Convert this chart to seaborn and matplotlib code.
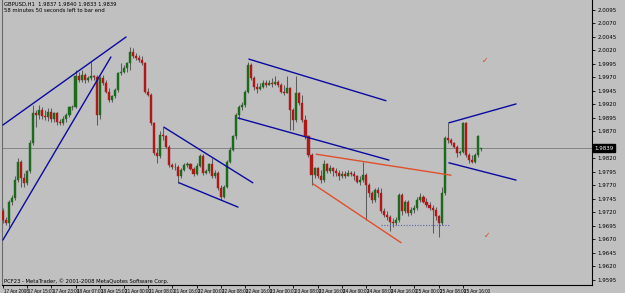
import numpy as np
import pandas as pd
import matplotlib
matplotlib.use("Agg")
import matplotlib.pyplot as plt
import matplotlib.transforms as mtransforms
from matplotlib import font_manager
import seaborn as sns

# ---------------- data (GBPUSD, H1) ----------------
opens = [1.9722,1.9706,1.9700,1.9740,1.9746,1.9780,1.9814,1.9783,1.9774,1.9796,
         1.9848,1.9904,1.9901,1.9910,1.9899,1.9896,1.9907,1.9893,1.9904,1.9888,
         1.9886,1.9893,1.9901,1.9915,1.9916,1.9972,1.9965,1.9975,1.9965,1.9969,
         1.9972,1.9970,1.9901,1.9969,1.9959,1.9944,1.9928,1.9935,1.9947,1.9978,
         1.9981,1.9987,1.9996,2.0018,2.0009,2.0006,2.0002,1.9996,1.9944,1.9938,
         1.9885,1.9830,1.9825,1.9864,1.9861,1.9842,1.9808,1.9804,1.9805,1.9787,
         1.9799,1.9808,1.9810,1.9800,1.9792,1.9806,1.9825,1.9794,1.9796,1.9810,
         1.9787,1.9793,1.9765,1.9749,1.9768,1.9814,1.9836,1.9861,1.9901,1.9916,
         1.9919,1.9944,1.9993,1.9969,1.9953,1.9948,1.9953,1.9959,1.9956,1.9960,
         1.9958,1.9962,1.9956,1.9944,1.9941,1.9950,1.9910,1.9891,1.9941,1.9922,
         1.9891,1.9861,1.9827,1.9790,1.9802,1.9787,1.9780,1.9810,1.9796,1.9802,
         1.9796,1.9793,1.9787,1.9792,1.9788,1.9794,1.9792,1.9787,1.9777,1.9780,
         1.9790,1.9771,1.9756,1.9743,1.9762,1.9756,1.9722,1.9716,1.9712,1.9703,
         1.9700,1.9706,1.9752,1.9722,1.9740,1.9719,1.9725,1.9728,1.9743,1.9749,
         1.9740,1.9734,1.9728,1.9725,1.9713,1.9700,1.9756,1.9858,1.9854,1.9848,
         1.9842,1.9830,1.9832,1.9885,1.9827,1.9817,1.9814,1.9827,1.9837]
highs = [1.9728,1.9712,1.9743,1.9753,1.9787,1.9820,1.9817,1.9793,1.9799,1.9854,
         1.9919,1.9910,1.9919,1.9916,1.9910,1.9913,1.9913,1.9907,1.9907,1.9894,
         1.9898,1.9904,1.9917,1.9919,1.9984,1.9981,1.9984,1.9978,1.9972,1.9999,
         1.9975,1.9975,1.9972,1.9975,1.9965,1.9950,1.9938,1.9950,1.9981,1.9996,
         1.9993,1.9999,2.0027,2.0024,2.0015,2.0012,2.0010,1.9999,1.9950,1.9941,
         1.9888,1.9839,1.9870,1.9879,1.9864,1.9845,1.9812,1.9811,1.9808,1.9802,
         1.9811,1.9814,1.9812,1.9805,1.9811,1.9828,1.9828,1.9800,1.9812,1.9820,
         1.9799,1.9796,1.9771,1.9771,1.9817,1.9842,1.9864,1.9904,1.9919,1.9925,
         1.9947,1.9999,1.9996,1.9972,1.9959,1.9959,1.9965,1.9965,1.9965,1.9969,
         1.9972,1.9965,1.9959,1.9956,1.9972,1.9953,1.9913,1.9972,1.9944,1.9938,
         1.9901,1.9863,1.9830,1.9805,1.9805,1.9799,1.9817,1.9811,1.9808,1.9805,
         1.9802,1.9799,1.9796,1.9796,1.9799,1.9796,1.9796,1.9790,1.9787,1.9814,
         1.9793,1.9774,1.9759,1.9765,1.9768,1.9765,1.9728,1.9722,1.9716,1.9709,
         1.9712,1.9756,1.9756,1.9743,1.9743,1.9731,1.9734,1.9749,1.9756,1.9752,
         1.9746,1.9740,1.9734,1.9731,1.9716,1.9768,1.9861,1.9885,1.9858,1.9851,
         1.9845,1.9836,1.9887,1.9887,1.9830,1.9827,1.9830,1.9864,1.9840]
lows = [1.9700,1.9697,1.9694,1.9734,1.9743,1.9777,1.9768,1.9768,1.9771,1.9793,
        1.9845,1.9879,1.9894,1.9894,1.9891,1.9890,1.9888,1.9888,1.9882,1.9882,
        1.9882,1.9888,1.9896,1.9910,1.9913,1.9962,1.9962,1.9959,1.9962,1.9965,
        1.9965,1.9882,1.9894,1.9956,1.9941,1.9925,1.9925,1.9932,1.9944,1.9975,
        1.9978,1.9981,1.9984,2.0006,2.0002,1.9999,1.9993,1.9941,1.9935,1.9882,
        1.9827,1.9811,1.9820,1.9854,1.9839,1.9805,1.9800,1.9799,1.9774,1.9783,
        1.9796,1.9804,1.9798,1.9788,1.9790,1.9804,1.9790,1.9792,1.9794,1.9783,
        1.9783,1.9762,1.9743,1.9746,1.9765,1.9811,1.9833,1.9857,1.9894,1.9910,
        1.9916,1.9941,1.9965,1.9947,1.9941,1.9947,1.9950,1.9953,1.9956,1.9953,
        1.9956,1.9953,1.9941,1.9938,1.9941,1.9873,1.9873,1.9888,1.9919,1.9888,
        1.9857,1.9823,1.9771,1.9783,1.9783,1.9774,1.9777,1.9793,1.9794,1.9787,
        1.9787,1.9780,1.9783,1.9783,1.9787,1.9787,1.9780,1.9774,1.9771,1.9777,
        1.9706,1.9749,1.9737,1.9740,1.9749,1.9719,1.9712,1.9706,1.9685,1.9694,
        1.9697,1.9703,1.9716,1.9719,1.9713,1.9716,1.9719,1.9725,1.9740,1.9737,
        1.9731,1.9725,1.9682,1.9706,1.9675,1.9697,1.9752,1.9848,1.9845,1.9839,
        1.9823,1.9827,1.9830,1.9823,1.9811,1.9811,1.9811,1.9823,1.9833]
closes = [1.9706,1.9700,1.9740,1.9746,1.9780,1.9814,1.9783,1.9774,1.9796,1.9848,
          1.9904,1.9901,1.9910,1.9899,1.9896,1.9907,1.9893,1.9904,1.9888,1.9886,
          1.9893,1.9901,1.9915,1.9916,1.9972,1.9965,1.9975,1.9965,1.9969,1.9972,
          1.9970,1.9901,1.9969,1.9959,1.9944,1.9928,1.9935,1.9947,1.9978,1.9981,
          1.9987,1.9996,2.0018,2.0009,2.0006,2.0002,1.9996,1.9944,1.9938,1.9885,
          1.9830,1.9825,1.9864,1.9861,1.9842,1.9808,1.9804,1.9805,1.9787,1.9799,
          1.9808,1.9810,1.9800,1.9792,1.9806,1.9825,1.9794,1.9796,1.9810,1.9787,
          1.9793,1.9765,1.9749,1.9768,1.9814,1.9836,1.9861,1.9901,1.9916,1.9919,
          1.9944,1.9993,1.9969,1.9953,1.9948,1.9953,1.9959,1.9956,1.9960,1.9958,
          1.9962,1.9956,1.9944,1.9941,1.9950,1.9910,1.9891,1.9941,1.9922,1.9891,
          1.9861,1.9827,1.9790,1.9802,1.9787,1.9780,1.9810,1.9796,1.9802,1.9796,
          1.9793,1.9787,1.9792,1.9788,1.9794,1.9792,1.9787,1.9777,1.9780,1.9790,
          1.9771,1.9756,1.9743,1.9762,1.9756,1.9722,1.9716,1.9712,1.9703,1.9700,
          1.9706,1.9752,1.9722,1.9740,1.9719,1.9725,1.9728,1.9743,1.9749,1.9740,
          1.9734,1.9728,1.9725,1.9713,1.9700,1.9756,1.9858,1.9854,1.9848,1.9842,
          1.9830,1.9832,1.9885,1.9827,1.9817,1.9814,1.9827,1.9861,1.9839]

price_ticks = [1.9595,1.9620,1.9645,1.9670,1.9695,1.9720,1.9745,1.9770,1.9795,1.9820,
               1.9845,1.9870,1.9895,1.9920,1.9945,1.9970,1.9995,2.0020,2.0045,2.0070,2.0095]
time_tick_bars = [0,8,16,24,32,40,48,56,64,72,80,88,96,104,112,120,128,136,144,152]
time_tick_labels = ["17 Apr 2008","17 Apr 15:00","17 Apr 23:00","18 Apr 07:00","18 Apr 15:00",
                    "21 Apr 00:00","21 Apr 08:00","21 Apr 16:00","22 Apr 00:00","22 Apr 08:00",
                    "22 Apr 16:00","23 Apr 00:00","23 Apr 08:00","23 Apr 16:00","24 Apr 00:00",
                    "24 Apr 08:00","24 Apr 16:00","25 Apr 00:00","25 Apr 08:00","25 Apr 16:00"]
bid_price = 1.9839
header_line1 = "GBPUSD,H1  1.9837 1.9840 1.9833 1.9839"
header_line2 = "58 minutes 50 seconds left to bar end"
footer_text = "PCF23 - MetaTrader, \u00a9 2001-2008 MetaQuotes Software Corp."

# drawn trend lines: (bar_start, price_start, bar_end, price_end)
blue_lines = [
    (0.0, 1.9882, 40.7, 2.0045),
    (0.0, 1.9669, 35.7, 2.0008),
    (53.2, 1.9878, 82.6, 1.9775),
    (58.2, 1.9775, 77.7, 1.9730),
    (81.3, 2.0004, 126.6, 1.9927),
    (77.7, 1.9895, 127.6, 1.9817),
    (147.4, 1.9886, 169.6, 1.9921),
    (147.4, 1.9812, 169.6, 1.9780),
]
red_lines = [
    (103.5, 1.9828, 148.1, 1.9789),
    (102.5, 1.9773, 131.6, 1.9664),
]
dotted_level = (125.0, 147.4, 1.9697)
check_marks = [(159.3, 2.0002), (160.0, 1.9678)]

# ---------------- style ----------------
BG = "#c0c0c0"
sns.set_theme(style="ticks")
plt.rcParams["font.family"] = ["DejaVu Sans"]
plt.rcParams["axes.facecolor"] = BG
plt.rcParams["figure.facecolor"] = BG

installed = {f.name for f in font_manager.fontManager.ttflist}
narrow = "Liberation Sans Narrow" if "Liberation Sans Narrow" in installed else "Liberation Sans"

fig = plt.figure(figsize=(6.25, 2.93), dpi=100)
ax = fig.add_axes([2/625, 8/293, 590/625, 285/293])
ax.set_facecolor(BG)

df = pd.DataFrame({"open": opens, "high": highs, "low": lows, "close": closes})
df["bar"] = np.arange(len(df))
df["up"] = df["close"] >= df["open"]

bull_col = "#1c6a1c"
bear_col = "#b01818"
wick_col = "#5c5c5c"

ax.axhline(bid_price, color="#858585", lw=0.7, zorder=1)

ax.vlines(df["bar"], df["low"], df["high"], color=wick_col, lw=0.75, zorder=2)
body_bottom = np.minimum(df["open"], df["close"])
body_height = np.abs(df["close"] - df["open"])
colors = np.where(df["up"], bull_col, bear_col)
ax.bar(df["bar"], body_height, bottom=body_bottom, width=0.68, color=colors,
       edgecolor=colors, linewidth=0.3, zorder=3)

for b0, p0, b1, p1 in blue_lines:
    sns.lineplot(x=[b0, b1], y=[p0, p1], ax=ax, color="#0a0aa0", lw=1.0,
                 estimator=None, sort=False, zorder=4)
for b0, p0, b1, p1 in red_lines:
    sns.lineplot(x=[b0, b1], y=[p0, p1], ax=ax, color="#e0502c", lw=1.0,
                 estimator=None, sort=False, zorder=4)
ax.plot([dotted_level[0], dotted_level[1]], [dotted_level[2]] * 2,
        color="#5a64a8", lw=0.8, ls=(0, (1, 1.5)), zorder=4)
for b, p in check_marks:
    ax.text(b, p, "\u2713", color="#e04020", fontsize=5.5, ha="center", va="center", zorder=5)

ax.set_xlim(-0.3, 194.7)
ax.set_ylim(1.95857, 2.01135)

# axes decoration
ax.yaxis.tick_right()
ax.set_yticks(price_ticks)
# the 1.9845 label sits under the current-price box, as in MetaTrader
ax.set_yticklabels(["" if abs(v - 1.9845) < 1e-6 else f"{v:.4f}" for v in price_ticks])
ax.set_xticks(time_tick_bars)
ax.set_xticklabels(time_tick_labels)
ax.tick_params(axis="y", length=2.5, width=0.6, pad=1.5, labelsize=4.0, colors="black")
ax.tick_params(axis="x", length=2.5, width=0.6, pad=0.6, labelsize=3.3, colors="black")
offset = mtransforms.ScaledTranslation(1.2/100, 0, fig.dpi_scale_trans)
for lbl in ax.get_xticklabels():
    lbl.set_horizontalalignment("left")
    lbl.set_fontfamily(narrow)
    lbl.set_transform(lbl.get_transform() + offset)
ax.set_xlabel("")
ax.set_ylabel("")
ax.spines["top"].set_visible(False)
ax.spines["right"].set_color("black")
ax.spines["bottom"].set_color("black")
ax.spines["left"].set_color("#6a6a6a")
for s in ["right", "bottom", "left"]:
    ax.spines[s].set_linewidth(0.8)

# current price box
trans = mtransforms.blended_transform_factory(ax.transAxes, ax.transData)
ax.text(1.004, bid_price, f"{bid_price:.4f}", transform=trans, ha="left", va="center",
        color="white", fontsize=4.0, zorder=10, clip_on=False,
        bbox=dict(boxstyle="square,pad=0.25", fc="black", ec="black"))

fig.text(4/625, 1 - 2/293, header_line1, fontsize=3.8, va="top", ha="left", color="black")
fig.text(4/625, 1 - 8/293, header_line2, fontsize=3.8, va="top", ha="left", color="black")
ax.text(0.003, 0.004, footer_text, transform=ax.transAxes, fontsize=3.8,
        ha="left", va="bottom", color="black")

fig.savefig("out.png", dpi=100, facecolor=BG)
